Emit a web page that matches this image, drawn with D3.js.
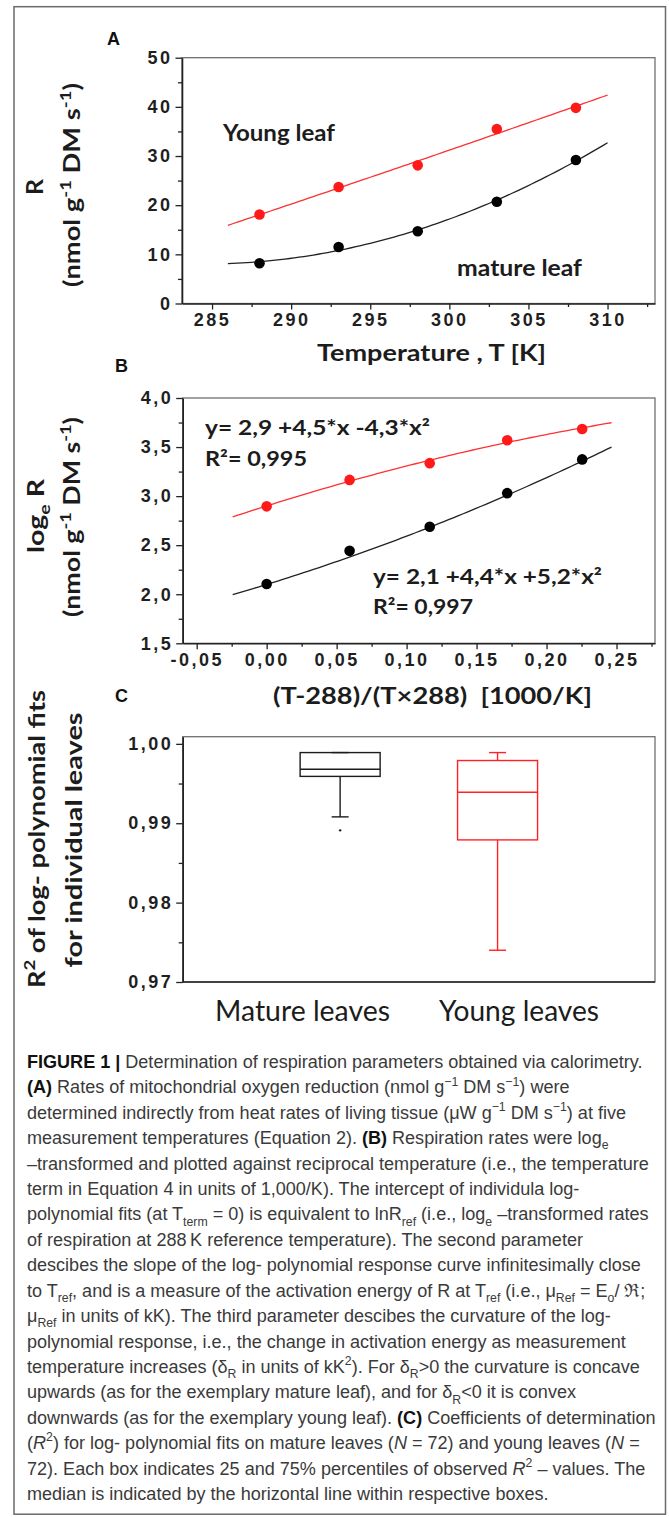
<!DOCTYPE html>
<html>
<head>
<meta charset="utf-8">
<script src="https://cdn.jsdelivr.net/npm/d3@7"></script>
<style>
  html, body { margin: 0; padding: 0; background: #fff; }
  svg { display: block; }
  text { white-space: pre; }
</style>
</head>
<body>
<svg id="fig" width="669" height="1517"></svg>
<script>
// ---------- data ----------
// Panel A: respiration rate R (nmol g-1 DM s-1) at five measurement temperatures (K)
const temperatures = [288, 293, 298, 303, 308];
const youngRate    = [18.1, 23.7, 28.1, 35.5, 39.8];
const matureRate   = [8.2, 11.5, 14.7, 20.7, 29.2];
const fitRangeT    = [286, 310];

// Panel B: log-polynomial fit coefficients [c0, c1, c2] and R² as printed
const youngLogFit  = [2.9, 4.5, -4.3];
const matureLogFit = [2.1, 4.4, 5.2];
const youngFitR2   = "0,995";
const matureFitR2  = "0,997";

// Panel C: R² of individual fits, [whisker low, Q1, median, Q3, whisker high]
const boxCategories  = ["Mature leaves", "Young leaves"];
const matureBox      = [0.9908, 0.9959, 0.9968, 0.9989, 0.9989];
const youngBox       = [0.9740, 0.9879, 0.9939, 0.9979, 0.9989];
const matureOutliers = [0.9891];
const youngOutliers  = [];

// Tick values
const ticksAx = [285, 290, 295, 300, 305, 310];
const ticksAy = [0, 10, 20, 30, 40, 50];
const ticksBx = [-0.05, 0, 0.05, 0.10, 0.15, 0.20, 0.25];
const ticksBy = [1.5, 2.0, 2.5, 3.0, 3.5, 4.0];
const ticksCy = [0.97, 0.98, 0.99, 1.00];
const minorAx = [287.5, 292.5, 297.5, 302.5, 307.5, 312.5];
const minorAy = [5, 15, 25, 35, 45];
const minorBx = [-0.025, 0.025, 0.075, 0.125, 0.175, 0.225, 0.275];
const minorBy = [1.75, 2.25, 2.75, 3.25, 3.75];
const minorCy = [0.975, 0.985, 0.995];

// ---------- setup ----------
const svg = d3.select("#fig");
const TICK_FONT  = "'Liberation Sans', Arial, sans-serif";
const LABEL_FONT = "Lato, 'Open Sans', 'DejaVu Sans', sans-serif";
const CAP_FONT   = "'Liberation Sans', Arial, sans-serif";
const RED = "#ff1a1a";
const INK = "#1c1c1c";

const loc = d3.formatLocale({decimal: ",", thousands: ".", grouping: [3], currency: ["", ""], minus: "-"});
const fmt0 = loc.format("d");
const fmt1 = loc.format(".1f");
const fmt2 = loc.format(".2f");

// reciprocal temperature term, 1000/K
const recipT = T => (T - 288) / (T * 288) * 1000;

// outer figure frame
svg.append("rect")
  .attr("x", 14).attr("y", 6.7).attr("width", 651.5).attr("height", 1507.5)
  .attr("fill", "none").attr("stroke", "#6a6a6a").attr("stroke-width", 1.5);

// rich text: **bold**, ~italic~, _{sub}, ^{sup}
function richText(textSel, markup, size) {
  const parts = markup.split(/(\*\*.+?\*\*|~.+?~|_\{.+?\}|\^\{.+?\})/).filter(s => s.length);
  let shift = 0;
  parts.forEach(p => {
    const t = textSel.append("tspan");
    let dy = 0, txt = p;
    if (p.startsWith("**")) { txt = p.slice(2, -2); t.attr("font-weight", "bold").attr("fill", "#111"); }
    else if (p.startsWith("~")) { txt = p.slice(1, -1); t.attr("font-style", "italic"); }
    else if (p.startsWith("_{")) { txt = p.slice(2, -1); t.attr("font-size", size * 0.68); dy = size * 0.28; }
    else if (p.startsWith("^{")) { txt = p.slice(2, -1); t.attr("font-size", size * 0.68); dy = -size * 0.42; }
    const d = dy - shift;
    if (d !== 0) t.attr("dy", d);
    shift = dy;
    t.text(txt);
  });
  return textSel;
}

function label(markup, x, y, opts) {
  const o = Object.assign({size: 22, weight: "bold", family: LABEL_FONT, anchor: "start", fill: INK}, opts);
  const t = svg.append("text")
    .attr("x", x).attr("y", y)
    .attr("font-family", o.family).attr("font-size", o.size).attr("font-weight", o.weight)
    .attr("text-anchor", o.anchor).attr("fill", o.fill);
  richText(t, markup, o.size);
  if (o.len) t.attr("textLength", o.len).attr("lengthAdjust", "spacingAndGlyphs");
  return t;
}

function rotLabel(markup, baseX, cy, len, size) {
  const t = svg.append("text")
    .attr("transform", `translate(${baseX},${cy}) rotate(-90)`)
    .attr("font-family", LABEL_FONT).attr("font-size", size).attr("font-weight", "bold")
    .attr("text-anchor", "middle").attr("fill", INK);
  richText(t, markup, size);
  t.attr("textLength", len).attr("lengthAdjust", "spacingAndGlyphs");
  return t;
}

function panelLetter(ch, x, y) {
  svg.append("text").attr("x", x).attr("y", y)
    .attr("font-family", TICK_FONT).attr("font-weight", "bold").attr("font-size", 18)
    .attr("fill", "#111").text(ch);
}

function styleAxis(g) {
  g.select(".domain").attr("stroke", "#222").attr("stroke-width", 1.6);
  g.selectAll(".tick line").attr("stroke", "#222").attr("stroke-width", 1.3);
  g.selectAll(".tick text")
    .attr("font-family", TICK_FONT).attr("font-weight", "bold").attr("font-size", 18)
    .attr("letter-spacing", "2.5px").attr("fill", "#1f1f1f");
}

function plotFrame(b) {
  svg.append("rect")
    .attr("x", b.l).attr("y", b.t).attr("width", b.r - b.l).attr("height", b.b - b.t)
    .attr("fill", "none").attr("stroke", "#707070").attr("stroke-width", 1.3);
}

function drawAxes(b, x, y, xt, xm, xf, yt, ym, yf) {
  plotFrame(b);
  if (xt) {
    svg.append("g").attr("transform", `translate(0,${b.b})`)
      .call(d3.axisBottom(x).tickValues(xm).tickSize(3.5).tickSizeOuter(0).tickFormat(""))
      .call(g => g.select(".domain").remove())
      .call(styleAxis);
    svg.append("g").attr("transform", `translate(0,${b.b})`)
      .call(d3.axisBottom(x).tickValues(xt).tickSize(6).tickSizeOuter(0).tickPadding(3.5).tickFormat(xf))
      .call(styleAxis);
  } else {
    svg.append("line").attr("x1", b.l).attr("x2", b.r).attr("y1", b.b).attr("y2", b.b)
      .attr("stroke", "#222").attr("stroke-width", 1.6);
  }
  svg.append("g").attr("transform", `translate(${b.l},0)`)
    .call(d3.axisLeft(y).tickValues(ym).tickSize(4).tickSizeOuter(0).tickFormat(""))
    .call(g => g.select(".domain").remove())
    .call(styleAxis);
  svg.append("g").attr("transform", `translate(${b.l},0)`)
    .call(d3.axisLeft(y).tickValues(yt).tickSize(6.5).tickSizeOuter(0).tickPadding(3).tickFormat(yf))
    .call(styleAxis);
}

// least-squares quadratic through (xs, ys)
function quadFit(xs, ys) {
  const xm = d3.mean(xs);
  const u = xs.map(v => v - xm);
  const S = k => d3.sum(u, v => Math.pow(v, k));
  const T = k => d3.sum(u, (v, i) => Math.pow(v, k) * ys[i]);
  const M = [[S(0), S(1), S(2), T(0)], [S(1), S(2), S(3), T(1)], [S(2), S(3), S(4), T(2)]];
  for (let i = 0; i < 3; i++) {
    for (let j = i + 1; j < 3; j++) {
      const f = M[j][i] / M[i][i];
      for (let k = i; k < 4; k++) M[j][k] -= f * M[i][k];
    }
  }
  const c = [0, 0, 0];
  for (let i = 2; i >= 0; i--) {
    let s = M[i][3];
    for (let k = i + 1; k < 3; k++) s -= M[i][k] * c[k];
    c[i] = s / M[i][i];
  }
  return v => c[0] + c[1] * (v - xm) + c[2] * (v - xm) * (v - xm);
}
const poly = cs => v => cs[0] + cs[1] * v + cs[2] * v * v;
const sampleT = d3.range(0, 81).map(i => fitRangeT[0] + i * (fitRangeT[1] - fitRangeT[0]) / 80);

function drawSeries(x, y, xs, ys, fitFn, fitXs, color, lineColor) {
  svg.append("path")
    .datum(fitXs.map(v => [v, fitFn(v)]))
    .attr("fill", "none").attr("stroke", lineColor).attr("stroke-width", 1.3)
    .attr("d", d3.line().x(d => x(d[0])).y(d => y(d[1])));
  svg.append("g").selectAll("circle").data(xs.map((v, i) => [v, ys[i]])).join("circle")
    .attr("cx", d => x(d[0])).attr("cy", d => y(d[1])).attr("r", 5.3).attr("fill", color);
}

// ---------- Panel A ----------
const A = {l: 182, r: 655, t: 57.7, b: 303.5};
const xA = d3.scaleLinear().domain([283.1, 313.0]).range([A.l, A.r]);
const yA = d3.scaleLinear().domain([0, 50]).range([A.b, A.t]);
drawAxes(A, xA, yA, ticksAx, minorAx, fmt0, ticksAy, minorAy, fmt0);
drawSeries(xA, yA, temperatures, youngRate, quadFit(temperatures, youngRate), sampleT, RED, "#ff3030");
drawSeries(xA, yA, temperatures, matureRate, quadFit(temperatures, matureRate), sampleT, "#000", "#222");
panelLetter("A", 107, 45);
label("Young leaf", 223, 141, {len: 112});
label("mature leaf", 457, 276, {len: 125});
label("Temperature , T [K]", 317, 361, {len: 229});
rotLabel("R", 43, 187, 16, 22);
rotLabel("(nmol g^{-1} DM s^{-1})", 80, 185, 204, 22);

// ---------- Panel B ----------
const B = {l: 182.7, r: 655, t: 398, b: 643.3};
const xB = d3.scaleLinear().domain([-0.06, 0.2775]).range([B.l, B.r]);
const yB = d3.scaleLinear().domain([1.5, 4.0]).range([B.b, B.t]);
drawAxes(B, xB, yB, ticksBx, minorBx, fmt2, ticksBy, minorBy, fmt1);
const recipX = temperatures.map(recipT);
const recipFitX = sampleT.map(recipT);
drawSeries(xB, yB, recipX, youngRate.map(Math.log), poly(youngLogFit), recipFitX, RED, "#ff3030");
drawSeries(xB, yB, recipX, matureRate.map(Math.log), poly(matureLogFit), recipFitX, "#000", "#222");
panelLetter("B", 115, 372);
const coef = v => loc.format(".1f")(Math.abs(v));
const sgn = v => (v < 0 ? "-" : "+");
label(`y= ${coef(youngLogFit[0])} ${sgn(youngLogFit[1])}${coef(youngLogFit[1])}*x ${sgn(youngLogFit[2])}${coef(youngLogFit[2])}*x²`, 205, 435, {size: 21, len: 225});
label(`R²= ${youngFitR2}`, 205, 466, {size: 21, len: 102});
label(`y= ${coef(matureLogFit[0])} ${sgn(matureLogFit[1])}${coef(matureLogFit[1])}*x ${sgn(matureLogFit[2])}${coef(matureLogFit[2])}*x²`, 373, 584, {size: 21, len: 229});
label(`R²= ${matureFitR2}`, 373, 614, {size: 21, len: 100});
label("(T-288)/(T×288)\u00a0\u00a0[1000/K]", 273, 704, {len: 319});
rotLabel("log_{e} R", 43.5, 516, 74, 22);
rotLabel("(nmol g^{-1} DM s^{-1})", 80, 517, 200, 22);

// ---------- Panel C ----------
const C = {l: 182.7, r: 655, t: 736.7, b: 982};
const xC = d3.scalePoint().domain(boxCategories).range([C.l, C.r]).padding(1);
const yC = d3.scaleLinear().domain([0.97, 1.0009]).range([C.b, C.t]);
drawAxes(C, xC, yC, null, null, null, ticksCy, minorCy, fmt2);
const boxes = [
  {cat: boxCategories[0], s: matureBox, out: matureOutliers, color: "#1c1c1c"},
  {cat: boxCategories[1], s: youngBox, out: youngOutliers, color: "#ff2222"}
];
const boxW = 80, capW = 17;
boxes.forEach(bx => {
  const cx = xC(bx.cat);
  const [lo, q1, med, q3, hi] = bx.s;
  const g = svg.append("g").attr("stroke", bx.color).attr("stroke-width", 1.4).attr("fill", "none");
  g.append("line").attr("x1", cx).attr("x2", cx).attr("y1", yC(q3)).attr("y2", yC(hi));
  g.append("line").attr("x1", cx).attr("x2", cx).attr("y1", yC(q1)).attr("y2", yC(lo));
  g.append("line").attr("x1", cx - capW / 2).attr("x2", cx + capW / 2).attr("y1", yC(hi)).attr("y2", yC(hi));
  g.append("line").attr("x1", cx - capW / 2).attr("x2", cx + capW / 2).attr("y1", yC(lo)).attr("y2", yC(lo));
  g.append("rect").attr("x", cx - boxW / 2).attr("width", boxW)
    .attr("y", yC(q3)).attr("height", yC(q1) - yC(q3));
  g.append("line").attr("x1", cx - boxW / 2).attr("x2", cx + boxW / 2).attr("y1", yC(med)).attr("y2", yC(med));
  svg.append("g").selectAll("circle").data(bx.out).join("circle")
    .attr("cx", cx).attr("cy", d => yC(d)).attr("r", 1.2).attr("fill", bx.color);
});
panelLetter("C", 115, 702);
label(boxCategories[0], 215, 1021, {size: 28, weight: "normal", len: 175});
label(boxCategories[1], 439, 1021, {size: 28, weight: "normal", len: 160});
rotLabel("R^{2} of log- polynomial fits", 45, 839, 298, 23);
rotLabel("for individual leaves", 82, 840, 255, 23);

// ---------- caption ----------
const captionLines = [
  "**FIGURE 1 |** Determination of respiration parameters obtained via calorimetry.",
  "**(A)** Rates of mitochondrial oxygen reduction (nmol g^{−1} DM s^{−1}) were",
  "determined indirectly from heat rates of living tissue (μW g^{−1} DM s^{−1}) at five",
  "measurement temperatures (Equation 2). **(B)** Respiration rates were log_{e}",
  "–transformed and plotted against reciprocal temperature (i.e., the temperature",
  "term in Equation 4 in units of 1,000/K). The intercept of individula log-",
  "polynomial fits (at T_{term} = 0) is equivalent to lnR_{ref} (i.e., log_{e} –transformed rates",
  "of respiration at 288\u2009K reference temperature). The second parameter",
  "descibes the slope of the log- polynomial response curve infinitesimally close",
  "to T_{ref}, and is a measure of the activation energy of R at T_{ref} (i.e., μ_{Ref} = E_{o}/ ℜ;",
  "μ_{Ref} in units of kK). The third parameter descibes the curvature of the log-",
  "polynomial response, i.e., the change in activation energy as measurement",
  "temperature increases (δ_{R} in units of kK^{2}). For δ_{R}>0 the curvature is concave",
  "upwards (as for the exemplary mature leaf), and for δ_{R}<0 it is convex",
  "downwards (as for the exemplary young leaf). **(C)** Coefficients of determination",
  "(~R~^{2}) for log- polynomial fits on mature leaves (~N~ = 72) and young leaves (~N~ =",
  "72). Each box indicates 25 and 75% percentiles of observed ~R~^{2} – values. The",
  "median is indicated by the horizontal line within respective boxes."
];
const capSize = 18.5, capTop = 1068, capBottom = 1500, capLeft = 27, capWidth = 616;
const capStep = (capBottom - capTop) / (captionLines.length - 1);
const capG = svg.append("g");
const capTexts = captionLines.map((ln, i) => {
  const t = capG.append("text")
    .attr("x", 0).attr("y", capTop + i * capStep)
    .attr("font-family", CAP_FONT).attr("font-size", capSize).attr("fill", "#3a3a3a");
  return richText(t, ln, capSize);
});
const capScale = capWidth / capTexts[0].node().getComputedTextLength();
capG.attr("transform", `translate(${capLeft},0) scale(${capScale},1)`);
</script>
</body>
</html>
